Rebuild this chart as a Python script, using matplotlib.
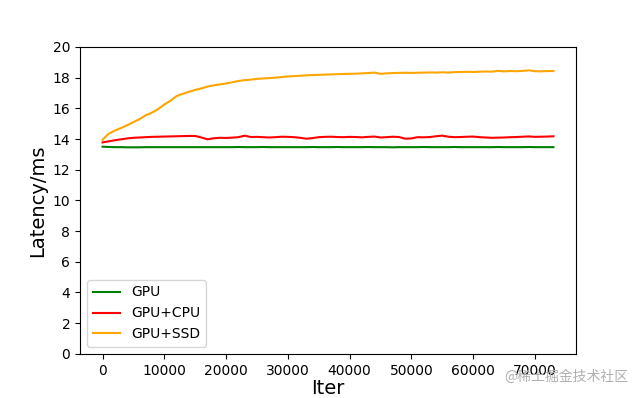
import matplotlib
matplotlib.use("Agg")
import matplotlib.pyplot as plt
import numpy as np

iters = list(range(0, 74000, 1000))

gpu = [13.50, 13.48, 13.47, 13.47, 13.46, 13.46, 13.46, 13.47, 13.47, 13.47,
       13.47, 13.47, 13.47, 13.47, 13.47, 13.47, 13.47, 13.47, 13.47, 13.47,
       13.47, 13.47, 13.48, 13.47, 13.47, 13.47, 13.48, 13.47, 13.47, 13.47,
       13.47, 13.47, 13.47, 13.47, 13.48, 13.47, 13.47, 13.47, 13.48, 13.47,
       13.47, 13.47, 13.47, 13.48, 13.47, 13.47, 13.47, 13.46, 13.47, 13.47,
       13.47, 13.47, 13.48, 13.47, 13.47, 13.47, 13.47, 13.48, 13.47, 13.47,
       13.47, 13.47, 13.47, 13.47, 13.48, 13.47, 13.47, 13.47, 13.47, 13.48,
       13.47, 13.47, 13.47, 13.47]

gpu_cpu = [13.78, 13.85, 13.92, 13.98, 14.04, 14.08, 14.10, 14.12, 14.14, 14.15,
           14.16, 14.17, 14.18, 14.19, 14.20, 14.20, 14.10, 13.98, 14.05, 14.08,
           14.07, 14.09, 14.12, 14.22, 14.13, 14.14, 14.12, 14.10, 14.12, 14.15,
           14.14, 14.12, 14.08, 14.02, 14.06, 14.12, 14.14, 14.15, 14.13, 14.12,
           14.14, 14.13, 14.11, 14.14, 14.16, 14.10, 14.12, 14.15, 14.13, 14.02,
           14.04, 14.12, 14.11, 14.13, 14.18, 14.22, 14.15, 14.12, 14.13, 14.15,
           14.16, 14.12, 14.10, 14.08, 14.09, 14.10, 14.12, 14.13, 14.15, 14.17,
           14.14, 14.15, 14.16, 14.18]

gpu_ssd = [13.95, 14.35, 14.55, 14.72, 14.90, 15.10, 15.30, 15.55, 15.72, 15.95,
           16.25, 16.50, 16.80, 16.95, 17.08, 17.20, 17.30, 17.42, 17.50, 17.56,
           17.62, 17.70, 17.78, 17.84, 17.87, 17.92, 17.95, 17.97, 18.00, 18.04,
           18.08, 18.10, 18.12, 18.15, 18.17, 18.18, 18.20, 18.21, 18.23, 18.24,
           18.25, 18.26, 18.28, 18.30, 18.33, 18.25, 18.28, 18.30, 18.31, 18.32,
           18.31, 18.32, 18.33, 18.34, 18.33, 18.35, 18.33, 18.36, 18.37, 18.38,
           18.37, 18.39, 18.40, 18.39, 18.44, 18.41, 18.43, 18.42, 18.44, 18.48,
           18.42, 18.41, 18.43, 18.43]

fig, ax = plt.subplots(figsize=(6.4, 3.98), dpi=100)
fig.subplots_adjust(left=0.125, right=0.9, top=0.882, bottom=0.111)
ax.plot(iters, gpu, color="green", label="GPU")
ax.plot(iters, gpu_cpu, color="red", label="GPU+CPU")
ax.plot(iters, gpu_ssd, color="orange", label="GPU+SSD")
ax.set_ylim(0, 20)
ax.set_yticks(range(0, 21, 2))
ax.set_xlabel("Iter", fontsize=14, labelpad=1)
ax.set_ylabel("Latency/ms", fontsize=14)
ax.legend(loc="lower left")

fig.text(0.982, 0.035, "@稀土掘金技术社区", ha="right", va="bottom",
         fontsize=10, color="#b0b0b0",
         family=["Noto Sans CJK SC", "DejaVu Sans"])

fig.savefig("out.png", dpi=100)
